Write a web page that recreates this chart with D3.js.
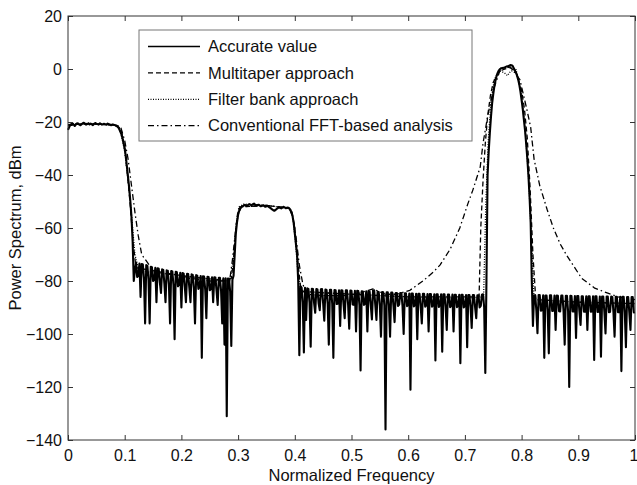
<!DOCTYPE html>
<html>
<head>
<meta charset="utf-8">
<script src="https://cdn.jsdelivr.net/npm/d3@7"></script>
<style>
body { margin: 0; background: #fff; }
text { font-family: "Liberation Sans", Arial, Helvetica, sans-serif; fill: #111; }
.tick line { stroke: #333; }
</style>
</head>
<body>
<div id="chart"></div>
<script>
// accurate value, every 0.004 of normalized frequency (0 .. 1)
var accStep = 0.004;
var accPower = [
  -23, -21, -20.5, -21.5, -20.5, -21, -20.8, -20.3, -21, -20.5,
  -20.6, -21.2, -20.4, -20.8, -20.5, -21, -20.7, -21, -20.8, -21.2,
  -21, -21.3, -21.8, -23.5, -26, -30, -37, -45, -56, -80,
  -73, -78, -86, -73.8, -96, -74.3, -96, -74.8, -79.5, -88,
  -75.4, -84.5, -75.8, -88, -76.1, -96, -76.4, -102, -76.7, -81,
  -90, -77.2, -88, -77.4, -88, -77.7, -96, -78, -82, -109,
  -78.3, -94, -78.5, -83, -88, -78.7, -89, -78.8, -96, -104,
  -131, -79.2, -104.5, -78, -62, -55, -52.5, -51.8, -51.3, -51.6,
  -51.0, -51.4, -50.8, -51.5, -51.2, -51.8, -51.4, -52.0, -51.6, -52.3,
  -53.0, -53.5, -52.8, -52.2, -52.6, -52.0, -52.5, -52.3, -53, -55.5,
  -62, -70, -108, -82.5, -107, -94.7, -83, -104.8, -83, -92,
  -83.2, -91, -83, -95, -83.4, -104, -83.3, -109, -83.5, -88.5,
  -97, -83.6, -94, -83.5, -98, -83.7, -89, -99, -83.8, -113.8,
  -84, -88.5, -99, -84, -94.5, -83.5, -94.7, -84.2, -101, -84.3,
  -136, -84.3, -101, -84.4, -95.5, -84.5, -89, -84.5, -100, -84.6,
  -89, -121, -84.7, -89, -102, -84.8, -96, -84.8, -89, -99,
  -84.9, -89, -110, -85, -89, -106.7, -85, -98.5, -85.1, -89.2,
  -99, -85.2, -89.3, -111, -85.2, -89.3, -105, -85.3, -97.7, -85.3,
  -94, -85.4, -89.4, -85, -114.7, -40, -24, -13, -6.5, -2.5,
  -0.5, 0.3, 0.5, 0.8, 1.0, 1.5, 1.2, -0.5, -2.5, -6,
  -11.7, -19, -28, -40, -58, -97, -85.5, -99.7, -85.3, -91,
  -109, -85.5, -107.3, -85.4, -91.2, -98.5, -85.6, -91.5, -85.5, -104,
  -85.6, -120, -85.7, -91.5, -101.5, -85.7, -96.6, -85.8, -91.6, -98.5,
  -85.8, -91.5, -109.8, -85.8, -91.6, -108.6, -85.9, -99.8, -85.9, -91.7,
  -86, -101, -86, -91.8, -114, -86, -105, -86.1, -98.5, -86.1,
  -91.8
];
// accurate value half way between the samples above (edges of the noise band)
var accPowerMid = [
  -22, -20.8, -21, -20.8, -20.6, -21.2, -20.5, -20.7, -20.8, -20.9,
  -20.9, -20.7, -20.6, -21, -20.7, -20.8, -20.9, -20.6, -21, -21,
  -21.1, -21.5, -22.5, -24.5, -28, -33, -41, -50, -65, -76,
  -78.5, -73.4, -73.6, -79, -74, -79.5, -74.6, -80, -75, -75.2,
  -80.5, -75.6, -81, -76, -81.3, -76.2, -81.5, -76.5, -82, -76.9,
  -77, -82.2, -77.3, -82.5, -77.5, -82.7, -77.8, -83, -78.1, -78.2,
  -83.3, -78.4, -83.5, -78.6, -78.6, -83.7, -78.8, -83.8, -79, -79,
  -79.1, -84, -79.5, -70, -58, -53.5, -52, -51.5, -51.5, -51.2,
  -51.2, -51.0, -51.2, -51.3, -51.5, -51.6, -51.7, -51.8, -52, -52.6,
  -53.3, -53.2, -52.5, -52.4, -52.3, -52.2, -52.4, -52.6, -54, -58,
  -66, -80, -82, -88, -82.6, -82.8, -88.2, -82.9, -88.3, -83,
  -88.4, -83.1, -88.5, -83.2, -88.6, -83.3, -88.6, -83.4, -88.7, -83.5,
  -83.5, -88.8, -83.5, -88.8, -83.6, -88.9, -83.7, -83.7, -89, -83.9,
  -89, -83.9, -84, -89.1, -83.6, -89.1, -84.1, -89.2, -84.2, -89.2,
  -84.3, -89.3, -84.4, -89.4, -84.5, -89.4, -84.5, -89.5, -84.6, -89.5,
  -84.7, -84.7, -89.6, -84.8, -84.8, -89.6, -84.8, -89.7, -84.9, -84.9,
  -89.7, -85, -85, -89.8, -85, -85, -89.8, -85.1, -89.9, -85.1,
  -85.2, -89.9, -85.2, -85.2, -90, -85.3, -85.3, -90, -85.3, -90,
  -85.4, -90, -85.2, -90, -80, -31, -18, -9.5, -4.3, -1.4,
  0, 0.4, 0.6, 1.0, 1.2, 1.4, 0.4, -1.4, -4, -8.5,
  -15, -23, -33.5, -48, -80, -85.4, -91, -85.3, -91.2, -85.4,
  -85.5, -91.3, -85.4, -91.3, -85.5, -85.5, -91.4, -85.5, -91.4, -85.6,
  -91.5, -85.6, -91.5, -85.7, -85.7, -91.6, -85.8, -91.6, -85.8, -85.8,
  -91.6, -85.8, -85.8, -91.7, -85.9, -85.9, -91.7, -85.9, -91.8, -85.9,
  -91.8, -86, -91.8, -86, -86, -91.9, -86.1, -91.9, -86.1, -91.9
];

// multitaper approach
var mtFreq = [0, 0.02, 0.04, 0.06, 0.08, 0.09, 0.095, 0.1, 0.105, 0.11, 0.115, 0.12, 0.2, 0.28,
  0.288, 0.292, 0.296, 0.3, 0.305, 0.35, 0.39, 0.395, 0.4, 0.405, 0.41, 0.415, 0.5, 0.6, 0.7,
  0.725, 0.728, 0.732, 0.736, 0.74, 0.745, 0.75, 0.76, 0.77, 0.78, 0.79, 0.8, 0.805, 0.81,
  0.815, 0.82, 0.825, 0.9, 1.0];
var mtPower = [-21.5, -20.8, -20.7, -20.9, -21.2, -22, -24, -30, -40, -52, -66, -75, -78, -80,
  -79, -72, -60, -53, -52, -51.5, -52.5, -54, -60, -72, -82, -84, -85, -86, -86,
  -86, -60, -42, -28, -18, -10, -5, -1, 0, 0.5, -1, -8, -15, -26,
  -45, -70, -87, -88, -88.5];

// filter bank approach
var fbFreq = [0, 0.03, 0.06, 0.085, 0.092, 0.1, 0.106, 0.112, 0.118, 0.125, 0.2, 0.285,
  0.292, 0.297, 0.302, 0.31, 0.35, 0.39, 0.396, 0.401, 0.406, 0.412, 0.5, 0.6, 0.7, 0.733,
  0.737, 0.741, 0.746, 0.752, 0.76, 0.77, 0.775, 0.78, 0.79, 0.8, 0.806, 0.812, 0.817, 0.822,
  0.9, 1.0];
var fbPower = [-21, -20.5, -20.8, -21.2, -23, -31, -42, -55, -70, -76, -78, -80,
  -72, -58, -52, -51, -51.5, -52.5, -55, -65, -78, -84, -85, -86, -86.5, -86,
  -50, -28, -12, -4, -0.5, -1.5, -2.5, -1, 0, -10, -22, -40, -62, -87,
  -88, -88.5];

// conventional FFT-based analysis
var fftFreq = [0, 0.03, 0.06, 0.085, 0.093, 0.1, 0.106, 0.112, 0.118, 0.124, 0.13, 0.15, 0.2,
  0.25, 0.285, 0.29, 0.295, 0.3, 0.306, 0.35, 0.39, 0.397, 0.403, 0.408, 0.414, 0.42, 0.45,
  0.5, 0.538, 0.56, 0.58, 0.603, 0.626, 0.645, 0.656, 0.674, 0.691, 0.705, 0.714, 0.727,
  0.732, 0.74, 0.75, 0.762, 0.78, 0.797, 0.809, 0.816, 0.822, 0.832, 0.845, 0.856, 0.868,
  0.88, 0.906, 0.929, 0.952, 0.97, 1.0];
var fftPower = [-21, -20.6, -20.9, -21, -22, -27, -34, -44, -54, -63, -70, -76, -78.5,
  -80, -80, -72, -62, -55, -52, -51.5, -52.5, -56, -65, -74, -81, -85, -85.5,
  -85.5, -83, -85, -85, -83.5, -80, -76.5, -74, -68, -60, -51, -45.7, -37,
  -28, -18, -8, -0.4, 0.8, -4, -15, -22, -34, -44, -53, -60, -66,
  -70.5, -79, -82.7, -84.6, -86, -87];

var seriesNames = ["Accurate value", "Multitaper approach", "Filter bank approach",
  "Conventional FFT-based analysis"];
var seriesDash = ["none", "5,3", "1,1.5", "6,3,1.5,3"];

var xTicks = [0, 0.1, 0.2, 0.3, 0.4, 0.5, 0.6, 0.7, 0.8, 0.9, 1];
var xTickLabels = ["0", "0.1", "0.2", "0.3", "0.4", "0.5", "0.6", "0.7", "0.8", "0.9", "1"];
var yTicks = [20, 0, -20, -40, -60, -80, -100, -120, -140];

// set the dimensions and margins of the graph
var margin = {top: 16, right: 2, bottom: 45, left: 68},
    width = 637 - margin.left - margin.right,
    height = 485 - margin.top - margin.bottom;

var x = d3.scaleLinear().domain([0, 1]).range([0, width]);
var y = d3.scaleLinear().domain([-140, 20]).range([height, 0]);

var base = d3.select("#chart").append("svg")
    .attr("width", width + margin.left + margin.right)
    .attr("height", height + margin.top + margin.bottom);

var svg = base.append("g")
    .attr("transform", "translate(" + margin.left + "," + margin.top + ")");

function pairs(fs, ps) {
  return fs.map(function(f, i) { return [f, ps[i]]; });
}

// interleave the two accurate-value readings
var accData = [];
accPower.forEach(function(p, i) {
  accData.push([i * accStep, p]);
  if (i < accPowerMid.length) accData.push([i * accStep + accStep / 2, accPowerMid[i]]);
});

var series = [
  accData,
  pairs(mtFreq, mtPower),
  pairs(fbFreq, fbPower),
  pairs(fftFreq, fftPower)
];

var line = d3.line()
    .x(function(d) { return x(d[0]); })
    .y(function(d) { return y(d[1]); });

// draw the estimates first, accurate value on top
[3, 2, 1, 0].forEach(function(k) {
  svg.append("path")
      .datum(series[k])
      .attr("fill", "none")
      .attr("stroke", "#000")
      .attr("stroke-width", k == 0 ? 2.1 : 1.3)
      .attr("stroke-dasharray", seriesDash[k])
      .attr("stroke-linejoin", "round")
      .attr("d", line);
});

// axes, ticks pointing inwards on all four sides
var xAxis = svg.append("g")
    .attr("transform", "translate(0," + height + ")")
    .call(d3.axisBottom(x).tickValues(xTicks)
        .tickFormat(function(d, i) { return xTickLabels[i]; })
        .tickSizeInner(-5).tickSizeOuter(0).tickPadding(10))
    .call(function(g) { g.select(".domain").remove(); });
xAxis.selectAll("text").style("font-size", "16px");
// last label sits on the window edge
xAxis.selectAll("text").filter(function(d) { return d == 1; })
    .attr("text-anchor", "end").attr("x", 3);

svg.append("g")
    .call(d3.axisTop(x).tickValues(xTicks).tickFormat("").tickSizeInner(-5).tickSizeOuter(0))
    .call(function(g) { g.select(".domain").remove(); });

svg.append("g")
    .call(d3.axisLeft(y).tickValues(yTicks)
        .tickSizeInner(-5).tickSizeOuter(0).tickPadding(6))
    .call(function(g) { g.select(".domain").remove(); })
    .selectAll("text").style("font-size", "16px");

svg.append("g")
    .attr("transform", "translate(" + width + ",0)")
    .call(d3.axisRight(y).tickValues(yTicks).tickFormat("").tickSizeInner(-5).tickSizeOuter(0))
    .call(function(g) { g.select(".domain").remove(); });

svg.append("rect")
    .attr("width", width)
    .attr("height", height)
    .attr("fill", "none")
    .attr("stroke", "#333");

// axis labels
svg.append("text")
    .attr("x", width / 2)
    .attr("y", height + 41)
    .attr("text-anchor", "middle")
    .style("font-size", "16.5px")
    .text("Normalized Frequency");

svg.append("text")
    .attr("transform", "translate(-47," + (height / 2) + ") rotate(-90)")
    .attr("text-anchor", "middle")
    .style("font-size", "16.5px")
    .text("Power Spectrum, dBm");

// legend
var legend = svg.append("g")
    .attr("transform", "translate(71,14)");

legend.append("rect")
    .attr("width", 333)
    .attr("height", 111)
    .attr("fill", "#fff")
    .attr("stroke", "#777");

seriesNames.forEach(function(name, i) {
  var ly = 16.5 + i * 26.4;
  legend.append("line")
      .attr("x1", 9).attr("x2", 61)
      .attr("y1", ly).attr("y2", ly)
      .attr("stroke", "#000")
      .attr("stroke-width", i == 0 ? 1.5 : 1.3)
      .attr("stroke-dasharray", seriesDash[i]);
  legend.append("text")
      .attr("x", 69)
      .attr("y", ly)
      .attr("dy", "0.35em")
      .style("font-size", "16.5px")
      .text(name);
});
</script>
</body>
</html>
